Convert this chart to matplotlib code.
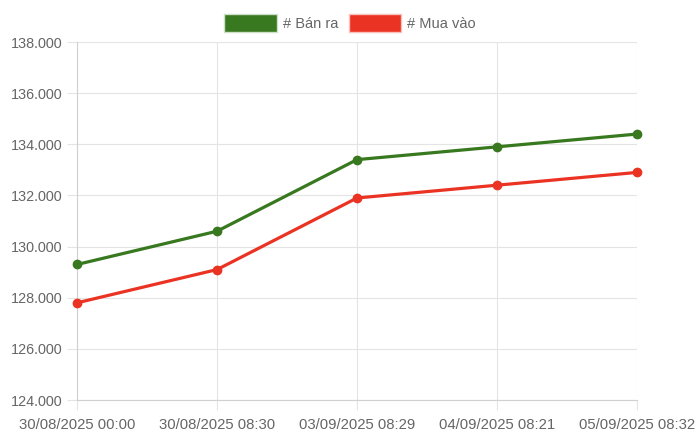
import matplotlib.pyplot as plt
from matplotlib.patches import Patch

labels = ["30/08/2025 00:00", "30/08/2025 08:30", "03/09/2025 08:29",
          "04/09/2025 08:21", "05/09/2025 08:32"]
ban_ra = [129300, 130600, 133400, 133900, 134400]
mua_vao = [127800, 129100, 131900, 132400, 132900]
yticks = [124000, 126000, 128000, 130000, 132000, 134000, 136000, 138000]

green = "#38781f"
red = "#eb3323"
grid_c = "#e4e4e4"
txt_c = "#666666"

plt.rcParams['font.family'] = ['Liberation Sans', 'DejaVu Sans']

fig = plt.figure(figsize=(7, 4.43), dpi=100)
ax = fig.add_axes([77 / 700, 43 / 443, 560 / 700, 358 / 443])

x = list(range(len(labels)))
ax.plot(x, ban_ra, color=green, lw=2.3, marker='o', ms=6, zorder=3, clip_on=False)
ax.plot(x, mua_vao, color=red, lw=2.3, marker='o', ms=6, zorder=3, clip_on=False)

ax.set_xlim(0, 4)
ax.set_ylim(124000, 138000)
ax.set_xticks(x)
ax.set_xticklabels(labels)
ax.set_yticks(yticks)
ax.set_yticklabels([f"{v:,}".replace(",", ".") for v in yticks])

ax.grid(True, color=grid_c, lw=0.8)
for s in ["top", "right"]:
    ax.spines[s].set_visible(False)
for s in ["left", "bottom"]:
    ax.spines[s].set_color("#d0d0d0")
    ax.spines[s].set_linewidth(0.8)
ax.tick_params(colors=grid_c, labelcolor=txt_c, length=7.2, width=0.8)
ax.tick_params(axis='x', labelsize=10.7, pad=5.5)
ax.tick_params(axis='y', labelsize=10.4, pad=3.5)

handles = [Patch(facecolor=green, edgecolor="#cfe0c8", label="# Bán ra"),
           Patch(facecolor=red, edgecolor="#f7c1bb", label="# Mua vào")]
fig.legend(handles=handles, loc="center", bbox_to_anchor=(0.5, 1 - 23 / 443), ncol=2,
           frameon=False, fontsize=10.5, labelcolor=txt_c, handlelength=3.6,
           handleheight=1.6, handletextpad=0.4, columnspacing=0.75, borderaxespad=0)

fig.savefig("out.png", dpi=100)
